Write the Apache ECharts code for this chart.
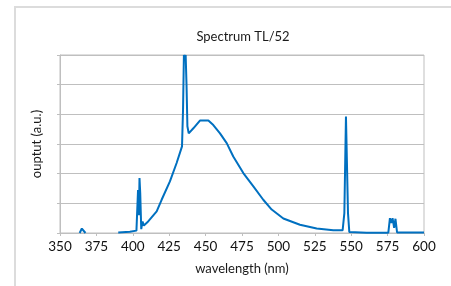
<!DOCTYPE html>
<html>
<head>
<meta charset="utf-8">
<script src="https://cdn.jsdelivr.net/npm/echarts@6/dist/echarts.min.js"></script>
<style>
  html, body { margin: 0; padding: 0; background: #fff; }
  #frame { position: absolute; left: 14px; top: 6px; right: 0; bottom: 0; border-left: 2px solid #dcdcdc; border-top: 2px solid #dcdcdc; }
  #chart { position: absolute; left: 0; top: 0; width: 451px; height: 286px; }
</style>
</head>
<body>
<div id="frame"></div>
<div id="chart"></div>
<script type="text/javascript">
    // wavelength (nm) and relative output; null = gap in the trace
    var wavelength = [363.5, 365, 366, 367.5, 377,
        390, 398, 402.5, 403.6, 404.2, 404.6, 405.1, 405.8, 406.7, 407.6, 410, 416.4, 419.8, 425.5, 430.1, 433.8,
        434.5, 435.1, 435.6, 436.3, 436.9, 437.5, 438.4, 441.6, 446.1, 451.9, 455.3, 459.9, 464.5, 469, 475.9, 482.8, 489.6,
        495.4, 503.4, 514.8, 526.3, 537.7, 544.1, 545.3, 546.4, 547.1, 547.8, 548.7, 560.6, 575.5, 576.6,
        577.5, 578.4, 579.5, 580.4, 581.5, 600];
    var output = [0, 0.15, 0.12, 0, null,
        0.02, 0.04, 0.08, 1.45, 0.6, 1.85, 1.35, 0.13, 0.39, 0.25, 0.36, 0.73, 1.12, 1.74, 2.36, 2.92,
        4.15, 6.0, 5.9, 6.0, 5.0, 3.6, 3.36, 3.53, 3.79, 3.79, 3.64, 3.36, 3.03, 2.58, 2.02, 1.57, 1.12,
        0.79, 0.49, 0.28, 0.15, 0.09, 0.09, 0.67, 3.93, 3.87, 0.67, 0.03, 0.01, 0.01, 0.5,
        0.34, 0.5, 0.17, 0.48, 0.02, 0.02];
    var xTicks = [350, 375, 400, 425, 450, 475, 500, 525, 550, 575, 600];

    var pts = [];
    for (var i = 0; i < wavelength.length; i++) {
        pts.push([wavelength[i], output[i] === null ? '-' : output[i]]);
    }

    var font = 'Lato, "Open Sans", sans-serif';
    var myChart = echarts.init(document.getElementById('chart'), null, {renderer: 'canvas'});
    myChart.setOption({
        animation: false,
        title: {
            text: 'Spectrum TL/52',
            left: 238,
            textAlign: 'center',
            top: 25,
            textStyle: {fontFamily: font, fontSize: 13, fontWeight: 'normal', color: '#1a1a1a'}
        },
        grid: {
            left: 60, right: 27, top: 55, bottom: 53,
            show: true, borderColor: '#bfbfbf', borderWidth: 1
        },
        xAxis: {
            type: 'value',
            min: xTicks[0],
            max: xTicks[xTicks.length - 1],
            interval: 25,
            name: 'wavelength (nm)',
            nameLocation: 'middle',
            nameGap: 29,
            nameTextStyle: {fontFamily: font, fontSize: 13, color: '#1a1a1a'},
            axisLine: {lineStyle: {color: '#bfbfbf'}},
            axisTick: {show: true, length: 3, lineStyle: {color: '#bfbfbf'}},
            axisLabel: {fontFamily: font, fontSize: 13.5, color: '#111', margin: 7},
            splitLine: {show: false}
        },
        yAxis: {
            type: 'value',
            min: 0,
            max: 6,
            interval: 1,
            name: 'ouptut (a.u.)',
            nameLocation: 'middle',
            nameGap: 17,
            nameTextStyle: {fontFamily: font, fontSize: 13, color: '#1a1a1a'},
            axisLine: {show: true, lineStyle: {color: '#bfbfbf'}},
            axisTick: {show: true, length: 3, lineStyle: {color: '#bfbfbf'}},
            axisLabel: {show: false},
            splitLine: {show: true, lineStyle: {color: '#bfbfbf'}}
        },
        series: [{
            type: 'line',
            data: pts,
            showSymbol: false,
            connectNulls: false,
            lineStyle: {color: '#0070c0', width: 2},
            itemStyle: {color: '#0070c0'}
        }]
    });
</script>
</body>
</html>
